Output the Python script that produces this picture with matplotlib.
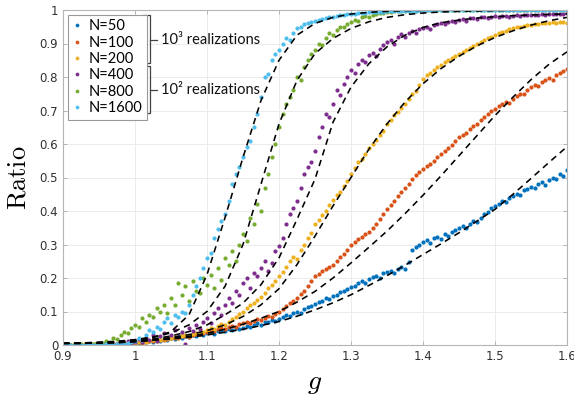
import numpy as np
import matplotlib
matplotlib.use("Agg")
import matplotlib.pyplot as plt

plt.rcParams['mathtext.fontset'] = 'cm'

# ---------------- data ----------------
labels = ["N=50", "N=100", "N=200", "N=400", "N=800", "N=1600"]
colors = ["#0072BD", "#D95319", "#EDB120", "#7E2F8E", "#77AC30", "#4DBEEE"]

g_data = np.linspace(0.9, 1.6, 141)     # sampled g values (step 0.005)
g_theory = np.linspace(0.9, 1.6, 29)    # theory curve g values (step 0.025)

ratio_n50 = [
    0.000,0.001,0.000,0.001,0.000,0.001,0.001,0.000,0.001,0.001,
    0.001,0.002,0.001,0.002,0.002,0.003,0.002,0.003,0.004,0.004,
    0.005,0.007,0.006,0.009,0.011,0.010,0.014,0.013,0.017,0.016,
    0.020,0.018,0.024,0.022,0.027,0.025,0.030,0.028,0.033,0.031,
    0.035,0.040,0.034,0.042,0.046,0.041,0.048,0.044,0.052,0.049,
    0.052,0.058,0.055,0.061,0.066,0.060,0.070,0.068,0.075,0.072,
    0.078,0.084,0.090,0.087,0.096,0.100,0.097,0.108,0.112,0.115,
    0.122,0.128,0.131,0.140,0.138,0.146,0.150,0.158,0.162,0.168,
    0.172,0.176,0.184,0.190,0.186,0.196,0.202,0.206,0.200,0.214,
    0.218,0.222,0.215,0.228,0.232,0.226,0.248,0.285,0.292,0.300,
    0.308,0.312,0.305,0.318,0.322,0.316,0.330,0.326,0.338,0.344,
    0.350,0.356,0.348,0.362,0.370,0.366,0.380,0.390,0.398,0.408,
    0.416,0.422,0.430,0.426,0.440,0.446,0.452,0.448,0.462,0.466,
    0.472,0.470,0.480,0.486,0.478,0.494,0.500,0.496,0.510,0.505,
    0.522]
ratio_n100 = [
    0.000,0.001,0.001,0.000,0.001,0.001,0.002,0.001,0.002,0.002,
    0.002,0.003,0.002,0.003,0.004,0.003,0.004,0.005,0.005,0.006,
    0.006,0.008,0.007,0.010,0.012,0.011,0.014,0.016,0.015,0.018,
    0.020,0.022,0.021,0.026,0.028,0.025,0.031,0.034,0.032,0.037,
    0.040,0.043,0.041,0.047,0.050,0.048,0.054,0.057,0.055,0.062,
    0.065,0.069,0.066,0.073,0.078,0.075,0.082,0.088,0.085,0.094,
    0.100,0.108,0.116,0.125,0.132,0.140,0.152,0.162,0.175,0.190,
    0.205,0.212,0.220,0.226,0.232,0.240,0.250,0.262,0.272,0.284,
    0.298,0.306,0.315,0.322,0.330,0.336,0.348,0.362,0.375,0.390,
    0.405,0.418,0.430,0.446,0.458,0.468,0.482,0.495,0.506,0.515,
    0.525,0.534,0.540,0.550,0.562,0.570,0.580,0.588,0.596,0.608,
    0.620,0.628,0.634,0.646,0.655,0.660,0.672,0.680,0.690,0.698,
    0.705,0.712,0.718,0.726,0.722,0.735,0.742,0.750,0.748,0.760,
    0.770,0.776,0.772,0.784,0.790,0.796,0.792,0.806,0.812,0.818,
    0.825]
ratio_n200 = [
    0.000,0.001,0.001,0.002,0.001,0.002,0.002,0.003,0.002,0.003,
    0.003,0.004,0.003,0.004,0.005,0.004,0.005,0.006,0.005,0.006,
    0.006,0.008,0.010,0.009,0.012,0.014,0.013,0.016,0.018,0.017,
    0.020,0.023,0.022,0.026,0.029,0.027,0.033,0.036,0.034,0.040,
    0.045,0.050,0.048,0.056,0.062,0.060,0.070,0.078,0.085,0.092,
    0.100,0.110,0.118,0.125,0.135,0.142,0.155,0.170,0.178,0.190,
    0.205,0.218,0.232,0.250,0.262,0.258,0.285,0.300,0.318,0.335,
    0.360,0.372,0.388,0.400,0.418,0.432,0.448,0.458,0.475,0.490,
    0.510,0.528,0.545,0.556,0.570,0.588,0.600,0.612,0.626,0.640,
    0.660,0.672,0.686,0.695,0.708,0.720,0.735,0.748,0.758,0.775,
    0.795,0.805,0.812,0.822,0.830,0.836,0.844,0.850,0.856,0.864,
    0.870,0.876,0.882,0.888,0.894,0.898,0.905,0.910,0.915,0.920,
    0.925,0.930,0.934,0.938,0.942,0.945,0.948,0.950,0.952,0.954,
    0.955,0.957,0.958,0.960,0.961,0.962,0.963,0.962,0.964,0.963,
    0.962]
ratio_n400 = [
    0.000,0.000,0.001,0.000,0.001,0.000,0.001,0.000,0.001,0.000,
    0.001,0.000,0.002,0.001,0.003,0.002,0.010,0.004,0.012,0.006,
    0.010,0.018,0.008,0.022,0.015,0.030,0.012,0.026,0.035,0.020,
    0.030,0.045,0.025,0.038,0.002,0.050,0.042,0.060,0.048,0.070,
    0.080,0.065,0.095,0.110,0.090,0.120,0.140,0.125,0.160,0.150,
    0.185,0.200,0.170,0.215,0.205,0.230,0.250,0.220,0.245,0.280,
    0.295,0.320,0.360,0.390,0.410,0.430,0.470,0.510,0.530,0.545,
    0.580,0.620,0.650,0.690,0.680,0.720,0.760,0.745,0.780,0.800,
    0.820,0.812,0.838,0.852,0.845,0.866,0.872,0.862,0.885,0.895,
    0.905,0.910,0.900,0.920,0.928,0.920,0.932,0.938,0.930,0.942,
    0.946,0.950,0.944,0.955,0.958,0.962,0.958,0.965,0.968,0.964,
    0.970,0.972,0.968,0.975,0.976,0.972,0.978,0.980,0.976,0.980,
    0.981,0.979,0.982,0.983,0.980,0.983,0.984,0.982,0.985,0.984,
    0.985,0.986,0.984,0.987,0.986,0.988,0.987,0.988,0.989,0.988,
    0.990]
ratio_n800 = [
    0.000,0.000,0.001,0.000,0.001,0.002,0.001,0.003,0.002,0.004,
    0.006,0.005,0.012,0.010,0.020,0.018,0.030,0.038,0.035,0.050,
    0.060,0.055,0.080,0.070,0.090,0.085,0.110,0.100,0.120,0.095,
    0.140,0.120,0.185,0.150,0.175,0.130,0.190,0.160,0.155,0.200,
    0.180,0.210,0.170,0.230,0.195,0.260,0.240,0.280,0.250,0.300,
    0.330,0.310,0.380,0.360,0.420,0.400,0.470,0.510,0.560,0.600,
    0.650,0.690,0.720,0.740,0.760,0.800,0.790,0.830,0.850,0.870,
    0.880,0.900,0.895,0.915,0.930,0.925,0.940,0.950,0.948,0.958,
    0.965,0.970,0.968,0.978,0.982,0.980,0.986,0.988,0.990,0.992,
    0.994,0.995,0.996,0.996,0.997,0.997,0.998,0.998,0.998,0.999,
    0.999,0.999,0.999,0.999,0.999,1.000,1.000,1.000,1.000,1.000,
    1.000,1.000,1.000,1.000,1.000,1.000,1.000,1.000,1.000,1.000,
    1.000,1.000,1.000,1.000,1.000,1.000,1.000,1.000,1.000,1.000,
    1.000,1.000,1.000,1.000,1.000,1.000,1.000,1.000,1.000,1.000,
    1.000]
ratio_n1600 = [
    0.000,0.000,0.000,0.001,0.000,0.000,0.001,0.000,0.001,0.001,
    0.001,0.001,0.002,0.001,0.002,0.003,0.002,0.004,0.005,0.008,
    0.012,0.020,0.015,0.030,0.045,0.038,0.055,0.048,0.070,0.080,
    0.065,0.090,0.085,0.100,0.095,0.120,0.150,0.175,0.200,0.230,
    0.260,0.275,0.320,0.345,0.370,0.390,0.430,0.480,0.510,0.530,
    0.560,0.590,0.610,0.650,0.690,0.740,0.800,0.810,0.850,0.870,
    0.880,0.900,0.915,0.910,0.930,0.945,0.950,0.958,0.962,0.965,
    0.968,0.970,0.972,0.975,0.978,0.980,0.982,0.984,0.985,0.987,
    0.988,0.989,0.990,0.991,0.992,0.993,0.994,0.994,0.995,0.995,
    0.996,0.996,0.997,0.997,0.997,0.998,0.998,0.998,0.998,0.999,
    0.999,0.999,0.999,0.999,0.999,1.000,1.000,1.000,1.000,1.000,
    1.000,1.000,1.000,1.000,1.000,1.000,1.000,1.000,1.000,1.000,
    1.000,1.000,1.000,1.000,1.000,1.000,1.000,1.000,1.000,1.000,
    1.000,1.000,1.000,1.000,1.000,1.000,1.000,1.000,1.000,1.000,
    1.000]

theory_n50 = [0.005,0.005,0.006,0.007,0.010,0.014,0.018,0.023,0.030,0.038,
              0.047,0.058,0.070,0.086,0.105,0.126,0.150,0.178,0.207,0.238,
              0.270,0.302,0.335,0.370,0.405,0.450,0.497,0.545,0.592]
theory_n100 = [0.005,0.005,0.006,0.007,0.010,0.014,0.019,0.026,0.035,0.047,
               0.062,0.080,0.100,0.128,0.160,0.200,0.245,0.292,0.340,0.392,
               0.447,0.505,0.565,0.625,0.685,0.740,0.792,0.838,0.875]
theory_n200 = [0.005,0.005,0.006,0.008,0.011,0.016,0.022,0.031,0.043,0.060,
               0.085,0.120,0.168,0.240,0.325,0.415,0.500,0.585,0.660,0.725,
               0.780,0.825,0.862,0.893,0.918,0.938,0.955,0.968,0.978]
theory_n400 = [0.005,0.005,0.006,0.008,0.012,0.018,0.027,0.040,0.060,0.090,
               0.125,0.180,0.260,0.375,0.495,0.665,0.770,0.840,0.890,0.925,
               0.948,0.962,0.970,0.976,0.980,0.983,0.985,0.987,0.988]
theory_n800 = [0.005,0.006,0.008,0.011,0.016,0.024,0.036,0.060,0.100,0.175,
               0.300,0.480,0.660,0.790,0.870,0.915,0.945,0.965,0.978,0.986,
               0.991,0.994,0.996,0.997,0.998,0.999,0.999,1.000,1.000]
theory_n1600 = [0.005,0.006,0.008,0.010,0.015,0.022,0.040,0.090,0.210,0.380,
                0.560,0.730,0.850,0.925,0.960,0.978,0.988,0.993,0.996,0.998,
                0.999,1.000,1.000,1.000,1.000,1.000,1.000,1.000,1.000]

xtick_vals = [0.9, 1.0, 1.1, 1.2, 1.3, 1.4, 1.5, 1.6]
xtick_labels = ["0.9", "1", "1.1", "1.2", "1.3", "1.4", "1.5", "1.6"]
ytick_vals = [0, 0.1, 0.2, 0.3, 0.4, 0.5, 0.6, 0.7, 0.8, 0.9, 1.0]
ytick_labels = ["0", "0.1", "0.2", "0.3", "0.4", "0.5", "0.6", "0.7", "0.8", "0.9", "1"]
group_labels = ["10\u00b3 realizations", "10\u00b2 realizations"]

data_series = [ratio_n50, ratio_n100, ratio_n200, ratio_n400, ratio_n800, ratio_n1600]
theory_series = [theory_n50, theory_n100, theory_n200, theory_n400, theory_n800, theory_n1600]

# ---------------- figure ----------------
fig = plt.figure(figsize=(5.74, 3.95), dpi=100)
ax = fig.add_axes([63/574, 50/395, 504/574, 335/395])

handles = []
for ys, c, lab in zip(data_series, colors, labels):
    h, = ax.plot(g_data, ys, linestyle='none', marker='o', markersize=3.0,
                 markeredgewidth=0, color=c, label=lab)
    handles.append(h)

for ys in theory_series:
    ax.plot(g_theory, ys, linestyle=(0, (4, 3)), color='black', linewidth=1.15)

ax.set_xlim(0.9, 1.6)
ax.set_ylim(0, 1)
ax.set_xticks(xtick_vals)
ax.set_xticklabels(xtick_labels)
ax.set_yticks(ytick_vals)
ax.set_yticklabels(ytick_labels)
ax.tick_params(direction='in', length=3, width=0.6, colors='#aaaaaa',
               labelcolor='#303030', labelsize=8.5, top=True, right=True,
               labeltop=False, labelright=False)
ax.grid(True, color='#ebebeb', linewidth=0.7)
ax.set_axisbelow(True)
for sp in ax.spines.values():
    sp.set_color('#b5b5b5')
    sp.set_linewidth(0.8)

ax.set_xlabel(r'$g$', fontsize=20, labelpad=4)
ax.set_ylabel(r'$\mathrm{Ratio}$', fontsize=19, labelpad=6)

leg = ax.legend(handles=handles, loc='upper left', bbox_to_anchor=(0.0, 1.0),
                prop={'family': 'Lato', 'size': 10.5}, frameon=True,
                fancybox=False, edgecolor='#999999', framealpha=1,
                handlelength=0.6, handletextpad=0.5, labelspacing=0.16,
                borderpad=0.3, borderaxespad=0.35, markerscale=0.9)
leg.get_frame().set_linewidth(0.8)

# group braces
def fx(px):
    return (px - 63) / 504
def fy(py):
    return (345 - py) / 335

for (top, bot, mid), txt in zip([(15, 63, 40), (66, 113, 90)], group_labels):
    xs = [fx(143), fx(150), fx(150), fx(143)]
    ys = [fy(top), fy(top), fy(bot), fy(bot)]
    ax.plot(xs, ys, color='#444444', linewidth=0.9, transform=ax.transAxes,
            clip_on=False, zorder=5)
    ax.plot([fx(150), fx(157)], [fy(mid), fy(mid)], color='#444444',
            linewidth=0.9, transform=ax.transAxes, clip_on=False, zorder=5)
    ax.text(fx(161), fy(mid), txt, transform=ax.transAxes, family='Lato',
            fontsize=10.5, va='center', ha='left', color='#111111', zorder=5)

fig.savefig('out.png', dpi=100)
